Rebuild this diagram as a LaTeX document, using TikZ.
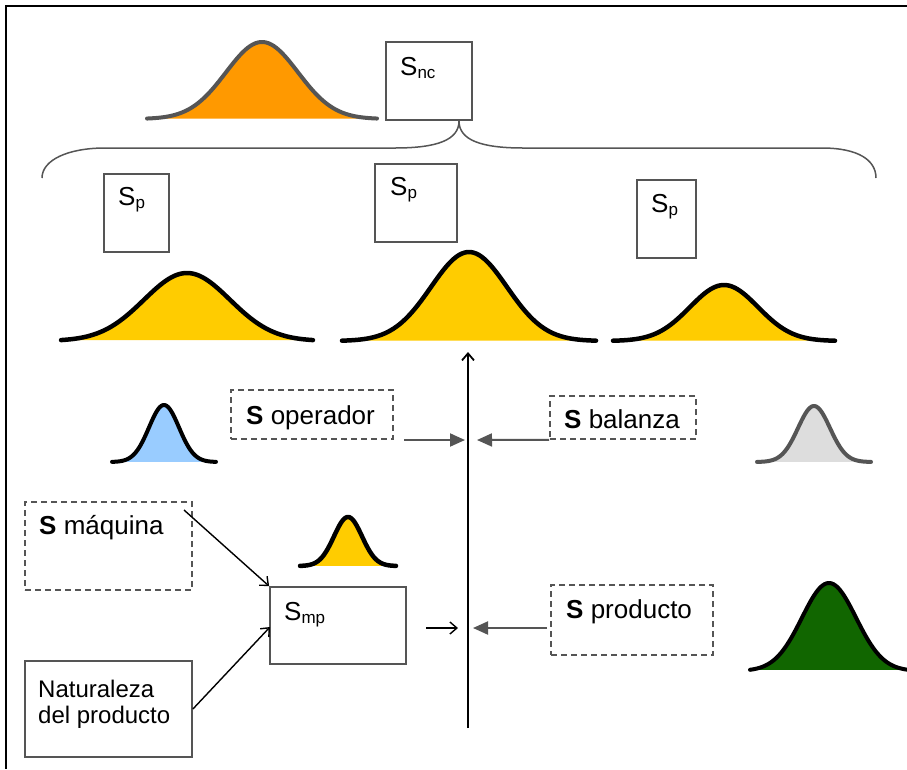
\documentclass[tikz,border=0pt]{standalone}
\usepackage{fontspec}
\setmainfont{Liberation Sans}
\usetikzlibrary{arrows.meta}

\definecolor{edgegray}{HTML}{555555}
\definecolor{bellorange}{HTML}{FF9900}
\definecolor{bellyellow}{HTML}{FFCC00}
\definecolor{bellblue}{HTML}{99CCFF}
\definecolor{bellgray}{HTML}{DDDDDD}
\definecolor{bellgreen}{HTML}{116600}

% bell curve: centre x, base y, height, half width, sigma, fill, stroke, line width
\newcommand\bellcurve[8]{%
  \fill[#6] plot[domain=-#4:#4, samples=90, smooth]
    ({#1+\x},{#2-#3*exp(-0.5*(\x/#5)*(\x/#5))}) -- cycle;
  \draw[#7, line width=#8, line cap=round] plot[domain=-#4:#4, samples=90, smooth]
    ({#1+\x},{#2-#3*exp(-0.5*(\x/#5)*(\x/#5))});
}
\newcommand\lowsub[1]{\raisebox{-3pt}{\fontsize{17}{17}\selectfont #1}}

\tikzset{
  sbox/.style={draw=edgegray, line width=1.8pt, rectangle, inner sep=0pt},
  dbox/.style={draw=edgegray, line width=1.6pt, dash pattern=on 6pt off 4pt, rectangle, inner sep=0pt},
  txt/.style={font=\fontsize{26}{30}\selectfont, inner sep=0pt, anchor=base west},
  garrow/.style={draw=edgegray, line width=2pt, -{Triangle[length=15pt,width=13pt]}},
  karrow/.style={draw=black, line width=1.4pt, -{Straight Barb[length=7pt,width=12pt]}},
  axisline/.style={draw=black, line width=1.8pt, -{Straight Barb[length=7pt,width=12pt]}},
}

\begin{document}
\begin{tikzpicture}[x=1pt,y=-1pt]
\useasboundingbox (0,0) rectangle (907,769);
\fill[white] (0,0) rectangle (907,769);

% outer frame (top and left edges)
\draw[line width=2.5pt] (907,6) -- (6,6) -- (6,769);

% top: overall distribution and its box
\bellcurve{262}{119}{77}{115}{36}{bellorange}{edgegray}{4pt}
\node[sbox, minimum width=86, minimum height=78] (snc) at (429,81) {};
\node[txt] (snclbl) at (400,75) {S\lowsub{nc}};

% brace gathering the three partial distributions
\draw[edgegray, line width=1.5pt]
  (42,178) .. controls (42,160) and (68,148) .. (105,148) -- (395,148)
  .. controls (437,148) and (459,140) .. (459,121)
  .. controls (459,140) and (481,148) .. (523,148) -- (822,148)
  .. controls (858,148) and (876,160) .. (876,178);

% partial boxes
\node[sbox, minimum width=65, minimum height=78] (sp1) at (136.5,213) {};
\node[txt] (sp1lbl) at (118,205) {S\lowsub{p}};
\node[sbox, minimum width=82, minimum height=78] (sp2) at (416,203) {};
\node[txt] (sp2lbl) at (390,195) {S\lowsub{p}};
\node[sbox, minimum width=59, minimum height=78] (sp3) at (666.5,219) {};
\node[txt] (sp3lbl) at (651,212) {S\lowsub{p}};

% partial distributions
\bellcurve{187}{341}{68}{126}{43}{bellyellow}{black}{4.5pt}
\bellcurve{469}{341}{89}{127}{38}{bellyellow}{black}{4.5pt}
\bellcurve{724}{341}{56}{111}{34}{bellyellow}{black}{4.5pt}

% central axis
\coordinate (axbot) at (468,728);
\coordinate (axtop) at (468,352);
\draw[axisline] (axbot) -- (axtop);

% operator and balance sources
\bellcurve{164}{462}{57}{52}{15}{bellblue}{black}{4pt}
\node[dbox, minimum width=162, minimum height=49] (oper) at (312,414.5) {};
\node[txt] (operlbl) at (246,424) {\textbf{S} operador};
\coordinate (operstart) at (404,440);
\coordinate (operend) at (465,440);
\draw[garrow] (operstart) -- (operend);

\node[dbox, minimum width=146, minimum height=43] (bal) at (623,417.5) {};
\node[txt] (ballbl) at (564,428) {\textbf{S} balanza};
\coordinate (balend) at (477,440);
\draw[garrow] (bal.south west) -- (balend);
\bellcurve{814}{462}{56}{57}{16}{bellgray}{edgegray}{4pt}

% machine and product nature feeding the raw material box
\node[dbox, minimum width=167, minimum height=88] (maq) at (108.5,546) {};
\node[txt] (maqlbl) at (39,534) {\textbf{S} máquina};
\bellcurve{348}{566}{49}{48}{14}{bellyellow}{black}{4.5pt}
\node[sbox, minimum width=136, minimum height=77] (smp) at (338,625.5) {};
\node[txt] (smplbl) at (284,620) {S\lowsub{mp}};
\node[sbox, minimum width=167, minimum height=96] (nat) at (108.5,709) {};
\node[txt, font=\fontsize{24}{28}\selectfont] (natlbl) at (38,697) {Naturaleza};
\node[txt, font=\fontsize{24}{28}\selectfont] (natlbl2) at (38,723) {del producto};

\coordinate (maqstart) at (184,510);
\draw[karrow] (maqstart) -- (smp.north west);
\coordinate (smpin) at (270,627);
\draw[karrow] (nat.east) -- (smpin);
\coordinate (smpout) at (426,628);
\coordinate (smpaxis) at (458,628);
\draw[karrow] (smpout) -- (smpaxis);

% product source
\node[dbox, minimum width=162, minimum height=70] (prod) at (632,620) {};
\node[txt] (prodlbl) at (566,618) {\textbf{S} producto};
\coordinate (prodstart) at (547,628);
\coordinate (prodend) at (473,628);
\draw[garrow] (prodstart) -- (prodend);
\bellcurve{829}{671}{88}{79}{27}{bellgreen}{black}{4pt}

\end{tikzpicture}
\end{document}
